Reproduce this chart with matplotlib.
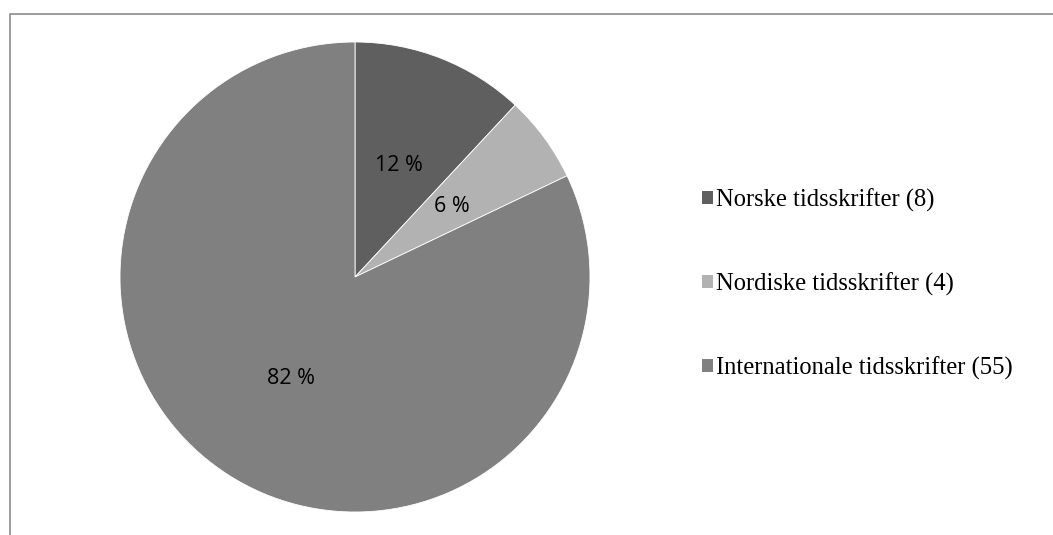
import matplotlib; matplotlib.use('Agg')  # noqa: E702
import matplotlib.pyplot as plt
from matplotlib.patches import Rectangle

LABELS = ['Norske tidsskrifter (8)', 'Nordiske tidsskrifter (4)', 'Internationale tidsskrifter (55)']
COUNTS = [8, 4, 55]
COLORS = ['#5f5f5f', '#b2b2b2', '#808080']

W, H = 1053, 535
fig = plt.figure(figsize=(W / 100, H / 100), dpi=100)

# outer frame (only top and left visible in the crop)
fig.patches.append(Rectangle((10 / W, -0.1), 1.2, (H - 14) / H + 0.1, transform=fig.transFigure,
                             fill=False, edgecolor='#8c8c8c', linewidth=1.2))

ax = fig.add_axes([120 / W, (H - 512) / H, 470 / W, 470 / H])
wedges, _, autotexts = ax.pie(COUNTS, colors=COLORS, startangle=90, counterclock=False,
                              autopct=lambda p: f'{p:.0f} %', pctdistance=0.51,
                              wedgeprops=dict(edgecolor='white', linewidth=0.6),
                              textprops=dict(fontsize=15.5, family='Open Sans', color='black'))
ax.set_xlim(-1, 1)
ax.set_ylim(-1, 1)
ax.set_aspect('equal')

leg = fig.legend(wedges, LABELS, loc='upper left', bbox_to_anchor=(680 / W, (H - 166) / H),
                 frameon=False, handlelength=0.45, handleheight=0.45, handletextpad=0.1,
                 labelspacing=2.47, prop=dict(family='Liberation Serif', size=17.7))
for h in leg.legend_handles:
    h.set_edgecolor('none')

fig.savefig('out.png', dpi=100)
